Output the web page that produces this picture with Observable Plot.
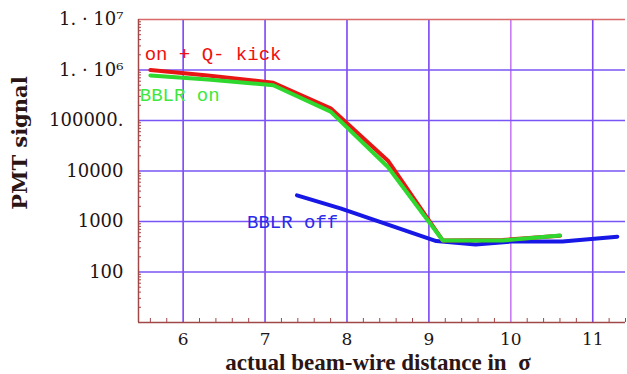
<!DOCTYPE html>
<html>
<head>
<meta charset="utf-8">
<script src="https://cdn.jsdelivr.net/npm/d3@7"></script>
<script src="https://cdn.jsdelivr.net/npm/@observablehq/plot@0.6"></script>
<style>
  html, body { margin: 0; padding: 0; background: #fff; }
</style>
</head>
<body>
<div id="chart"></div>
<script>
// Beam-wire scan: PMT signal vs. distance (in sigma)
const distOnKick = [5.6, 6.3, 7.1, 7.8, 8.5, 9.17, 9.9, 10.6];
const signalOnKick = [1.0e6, 7.8e5, 5.6e5, 1.75e5, 1.6e4, 420, 430, 520];

const distBblrOn = [5.6, 6.3, 7.1, 7.8, 8.5, 9.17, 9.9, 10.6];
const signalBblrOn = [7.8e5, 6.5e5, 5.0e5, 1.5e5, 1.2e4, 420, 420, 530];

const distBblrOff = [7.39, 7.92, 9.09, 9.57, 10.0, 10.63, 11.3];
const signalBblrOff = [3300, 1820, 410, 352, 400, 400, 500];

// tick values and their labels
const xTicks = [6, 7, 8, 9, 10, 11];
const yTicks = [1e7, 1e6, 1e5, 1e4, 1000, 100];
const yTickLabels = ["1. · 10⁷", "1. · 10⁶", "100000.", "10000", "1000", "100"];

// curve labels
const labelText = ["on + Q- kick", "BBLR on", "BBLR off"];
const labelX = [5.53, 5.47, 6.78];
const labelY = [2.1e6, 3.2e5, 980];
const labelColor = ["#f01010", "#3ee83e", "#2a2ae8"];

const xDomain = [5.455, 11.4];
const yDomain = [10, 1e7];

const rows = (xs, ys) => xs.map((x, i) => ({x, y: ys[i]}));
const onKick = rows(distOnKick, signalOnKick);
const bblrOn = rows(distBblrOn, signalBblrOn);
const bblrOff = rows(distBblrOff, signalBblrOff);
const labels = labelText.map((t, i) => ({t, x: labelX[i], y: labelY[i], c: labelColor[i]}));

const xMinor = d3.range(5.6, 11.41, 0.2).filter(v => Math.abs(v - Math.round(v)) > 1e-6);
const yMinor = [];
for (let e = 1; e < 7; e++) for (let m = 2; m <= 9; m++) yMinor.push(m * 10 ** e);

const chart = Plot.plot({
  width: 627,
  height: 374,
  marginLeft: 138,
  marginRight: 2,
  marginTop: 19,
  marginBottom: 52,
  style: {fontFamily: "DejaVu Serif", fontSize: "17px", background: "#fff", color: "#1e1414"},
  x: {domain: xDomain},
  y: {type: "log", domain: yDomain},
  marks: [
    // grid
    Plot.ruleX(xTicks, {stroke: d => d === 10 ? "#c77cf5" : "#7a45f5", strokeWidth: 1.6}),
    Plot.ruleY(yTicks.filter(v => v < 1e7), {stroke: "#7a55f5", strokeWidth: 1.4}),
    Plot.ruleY([1e7], {stroke: "#d86a6a", strokeWidth: 1.4}),
    // axis lines
    Plot.ruleX([xDomain[0]], {stroke: "#a04848", strokeWidth: 1.5}),
    Plot.ruleY([yDomain[0]], {stroke: "#a04848", strokeWidth: 1.5}),
    // ticks
    Plot.axisX({ticks: xMinor, tickSize: -4, stroke: "#a04848", text: null, label: null}),
    Plot.axisX({ticks: xTicks, tickSize: 0, tickPadding: 10, tickFormat: d => String(d), label: null, fontSize: 17}),
    Plot.axisY({ticks: yMinor, tickSize: -3, stroke: "#a04848", text: null, label: null}),
    Plot.axisY({ticks: yTicks, tickSize: 0, tickPadding: 15, tickFormat: d => yTickLabels[yTicks.indexOf(d)], label: null, fontSize: 18}),
    // curves
    Plot.line(bblrOff, {x: "x", y: "y", stroke: "#1717e6", strokeWidth: 4}),
    Plot.line(onKick, {x: "x", y: "y", stroke: "#e81515", strokeWidth: 4}),
    Plot.line(bblrOn, {x: "x", y: "y", stroke: "#2ed82e", strokeWidth: 4}),
    // curve labels
    Plot.text(labels, {x: "x", y: "y", text: "t", fill: "c", textAnchor: "start",
      fontFamily: "Liberation Mono", fontSize: 19}),
    // axis titles
    Plot.text(["PMT signal"], {frameAnchor: "left", textAnchor: "middle", lineAnchor: "middle",
      rotate: -90, dx: -118, dy: -28, fontWeight: "bold", fontSize: 21, fill: "#2b1515"}),
    Plot.text(["actual beam-wire distance in  σ"], {frameAnchor: "bottom", textAnchor: "middle",
      lineAnchor: "middle", dx: -4, dy: 40, fontFamily: "Liberation Serif", fontWeight: "bold",
      fontSize: 23, fill: "#2b1515"})
  ]
});

document.getElementById("chart").append(chart);
</script>
</body>
</html>
